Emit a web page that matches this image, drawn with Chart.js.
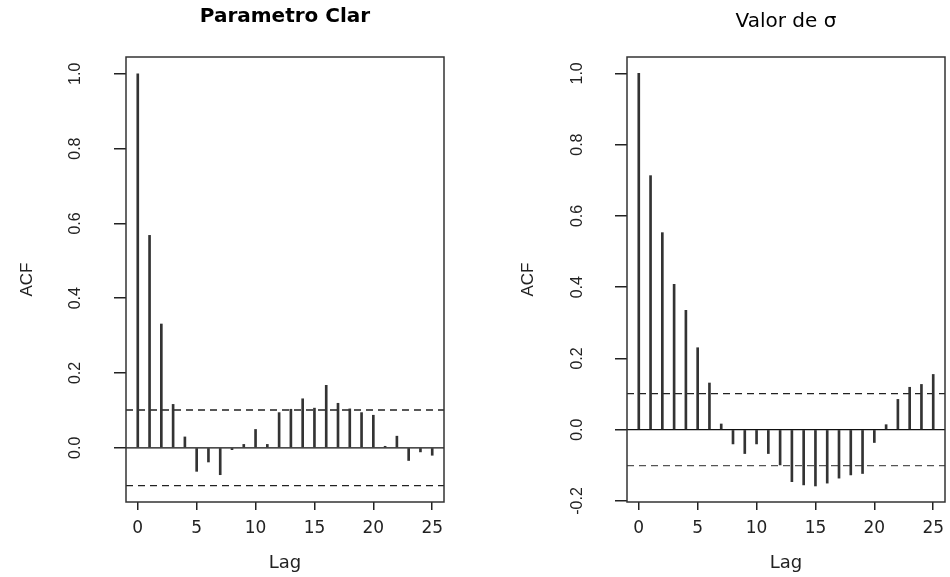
<!DOCTYPE html>
<html lang="es">
<head>
  <meta charset="UTF-8">
  <title>ACF - Parametro Clar / Valor de σ</title>
  <script src="https://cdn.jsdelivr.net/npm/chart.js"></script>
  <style>
    body {
      margin: 0;
      background: #fff;
    }
    .panel {
      position: absolute;
      top: 0;
      width: 449px;
      height: 577px;
    }
    #left { left: 0; }
    #right { left: 501px; }
  </style>
</head>
<body>
  <div class="panel" id="left"><canvas id="acfClar"></canvas></div>
  <div class="panel" id="right"><canvas id="acfSigma"></canvas></div>

  <script>
    // Datos
    const lags = [0, 1, 2, 3, 4, 5, 6, 7, 8, 9, 10, 11, 12, 13, 14, 15, 16, 17, 18, 19, 20, 21, 22, 23, 24, 25];
    const acfClar = [1.0, 0.568, 0.331, 0.116, 0.029, -0.063, -0.038, -0.072, -0.005, 0.009, 0.049, 0.009, 0.094,
      0.103, 0.131, 0.106, 0.167, 0.119, 0.104, 0.094, 0.087, 0.004, 0.031, -0.034, -0.011, -0.020];
    const acfSigma = [1.0, 0.713, 0.553, 0.408, 0.335, 0.230, 0.131, 0.016, -0.040, -0.067, -0.040, -0.067, -0.099,
      -0.146, -0.155, -0.158, -0.150, -0.136, -0.127, -0.123, -0.036, 0.014, 0.085, 0.119, 0.127, 0.155];
    const ciClar = 0.101;
    const ciSigma = 0.101;

    const lagTicks = [0, 5, 10, 15, 20, 25];
    const acfTicksClar = [0, 0.2, 0.4, 0.6, 0.8, 1.0];
    const acfTicksSigma = [-0.2, 0, 0.2, 0.4, 0.6, 0.8, 1.0];

    const lagLimits = [-1, 26];
    const yLimitsClar = [-0.145, 1.045];
    const yLimitsSigma = [-0.203, 1.046];

    // marco del area de graficado (como box() en R)
    const boxPlugin = {
      id: 'box',
      afterDraw(chart) {
        const { ctx, chartArea: a } = chart;
        ctx.save();
        ctx.strokeStyle = '#333';
        ctx.lineWidth = 1.5;
        ctx.strokeRect(a.left, a.top, a.right - a.left, a.bottom - a.top);
        ctx.restore();
      }
    };

    function hline(y, dashed, color) {
      return {
        type: 'line',
        data: [{ x: lagLimits[0], y: y }, { x: lagLimits[1], y: y }],
        borderColor: color,
        borderWidth: 1.3,
        borderDash: dashed ? [7, 5] : [],
        pointRadius: 0
      };
    }

    function makeAcf(id, title, titleFont, titlePad, acf, ci, yLimits, yTicks, tickPad, lowColor) {
      return new Chart(document.getElementById(id), {
        type: 'bar',
        data: {
          datasets: [
            {
              data: lags.map((l, i) => ({ x: l, y: acf[i] })),
              backgroundColor: '#333',
              barThickness: 2
            },
            hline(0, false, '#111'),
            hline(ci, true, '#222'),
            hline(-ci, true, lowColor)
          ]
        },
        options: {
          responsive: true,
          maintainAspectRatio: false,
          animation: false,
          layout: { padding: { left: 0, right: 5, top: 0, bottom: 0 } },
          plugins: {
            legend: { display: false },
            tooltip: { enabled: false },
            title: {
              display: true,
              text: title,
              fullSize: false,
              color: '#000',
              font: titleFont,
              padding: titlePad
            }
          },
          scales: {
            x: {
              type: 'linear',
              offset: false,
              min: lagLimits[0],
              max: lagLimits[1],
              afterBuildTicks: s => { s.ticks = lagTicks.map(v => ({ value: v })); },
              afterFit: s => { s.height = 75; s.paddingLeft = 0; s.paddingRight = 0; },
              grid: { offset: false, drawOnChartArea: false, tickLength: 8, color: '#222', lineWidth: 1.5 },
              border: { display: false },
              ticks: {
                color: '#222',
                padding: 8,
                maxRotation: 0,
                font: { family: 'DejaVu Sans', size: 17 }
              },
              title: {
                display: true,
                text: 'Lag',
                color: '#222',
                font: { family: 'DejaVu Sans', size: 18 },
                padding: { top: 0, bottom: 3 }
              }
            },
            y: {
              min: yLimits[0],
              max: yLimits[1],
              afterBuildTicks: s => { s.ticks = yTicks.map(v => ({ value: v })); },
              afterFit: s => { s.width = 126; },
              grid: { drawOnChartArea: false, tickLength: 12, color: '#222', lineWidth: 1.5 },
              border: { display: false },
              ticks: {
                color: '#222',
                minRotation: 90,
                maxRotation: 90,
                crossAlign: 'center',
                padding: tickPad,
                font: { family: 'Liberation Sans', size: 16 },
                callback: v => v.toFixed(1)
              },
              title: {
                display: true,
                text: 'ACF',
                color: '#222',
                font: { family: 'Liberation Sans', size: 17 },
                padding: { top: 17, bottom: 0 }
              }
            }
          }
        },
        plugins: [boxPlugin]
      });
    }

    makeAcf('acfClar', 'Parametro Clar',
      { family: 'DejaVu Sans', size: 20, weight: 'bold' }, { top: 5, bottom: 28 },
      acfClar, ciClar, yLimitsClar, acfTicksClar, 27, '#222');

    makeAcf('acfSigma', 'Valor de σ',
      { family: 'DejaVu Sans', size: 20, weight: 'normal' }, { top: 10, bottom: 23 },
      acfSigma, ciSigma, yLimitsSigma, acfTicksSigma, 24, '#555');
  </script>
</body>
</html>
